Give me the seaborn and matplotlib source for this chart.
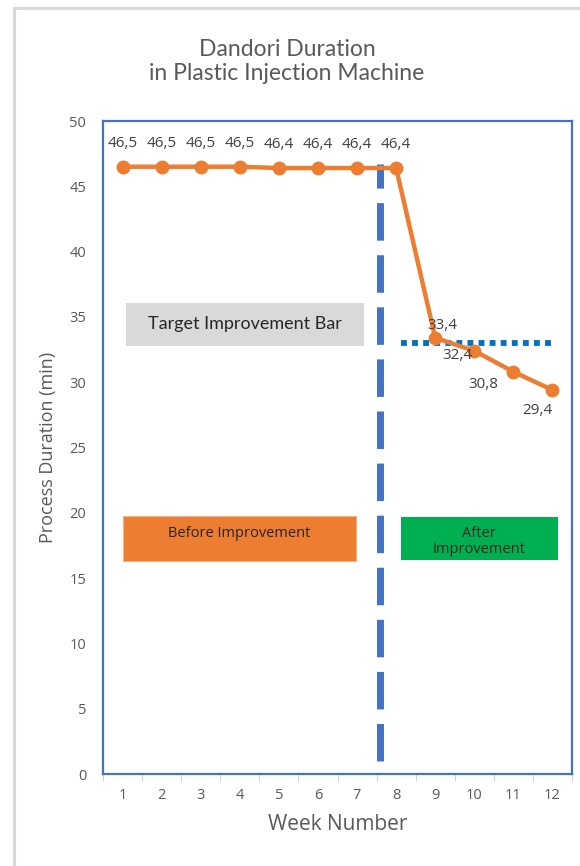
import matplotlib
matplotlib.use("Agg")
import matplotlib.pyplot as plt
from matplotlib.patches import Rectangle
from matplotlib.lines import Line2D
import seaborn as sns
import pandas as pd

# Weekly set-up (dandori) duration data
weeks = [1, 2, 3, 4, 5, 6, 7, 8, 9, 10, 11, 12]
durations = [46.5, 46.5, 46.5, 46.5, 46.4, 46.4, 46.4, 46.4, 33.4, 32.4, 30.8, 29.4]
target_value = 33.0
improvement_week = 7.6
y_ticks = [0, 5, 10, 15, 20, 25, 30, 35, 40, 45, 50]

# label offsets (points) for each data label
label_offsets = [(0, 17)] * 8 + [(5, 9), (-12, -3), (-22, -9), (-11, -15)]

ORANGE = "#ED7D31"
BLUE = "#4472C4"
GREEN = "#00B050"
GREY_TXT = "#595959"

sns.set_theme(style="white")
plt.rcParams["font.family"] = ["Open Sans", "DejaVu Sans"]

df = pd.DataFrame({"Week": weeks, "Duration": durations})

fig = plt.figure(figsize=(5.8, 8.66), dpi=100)
ax = fig.add_axes([103 / 580, 1 - 774 / 866, (572 - 103) / 580, (774 - 121) / 866])

# improvement boundary
ax.plot([improvement_week, improvement_week], [1.0, 46.7], color=BLUE, lw=5,
        dashes=(5.4, 2.1), solid_capstyle="butt", dash_capstyle="butt", zorder=2)

# target line
ax.plot([8.13, 12.1], [target_value, target_value], color="#0070C0", lw=4.2,
        dashes=(1.0, 0.9), dash_capstyle="butt", zorder=2)

sns.lineplot(data=df, x="Week", y="Duration", ax=ax, color=ORANGE, lw=3.2,
             marker="o", markersize=10, markeredgewidth=0, zorder=3)

for w, d, off in zip(weeks, durations, label_offsets):
    ax.annotate(f"{d:.1f}".replace(".", ","), (w, d), xytext=off,
                textcoords="offset points", ha="center", va="center",
                fontsize=11, color="#404040", zorder=4)

# annotation boxes
ax.add_patch(Rectangle((1.08, 32.8), 6.1, 3.3, facecolor="#D9D9D9",
                       edgecolor="none", zorder=1))
ax.text(1.08 + 3.05, 34.45, "Target Improvement Bar", ha="center", va="center",
        fontsize=13, color="#262626", family=["Lato", "DejaVu Sans"], zorder=2)

ax.add_patch(Rectangle((1.0, 16.3), 5.97, 3.45, facecolor=ORANGE,
                       edgecolor="#F4B183", lw=0.8, zorder=1))
ax.text(1.0 + 5.97 / 2, 18.45, "Before Improvement", ha="center", va="center",
        fontsize=10.5, color="#262626", zorder=2)

ax.add_patch(Rectangle((8.13, 16.4), 4.0, 3.3, facecolor=GREEN,
                       edgecolor="none", zorder=1))
ax.text(8.13 + 2.0, 17.8, "After\nImprovement", ha="center", va="center",
        fontsize=10.5, color="#262626", linespacing=1.05, zorder=2)

ax.set_xlim(0.5, 12.5)
ax.set_ylim(0, 50)
ax.set_yticks(y_ticks)
ax.set_xticks(weeks)
ax.set_xticks([w + 0.5 for w in weeks[:-1]] + [0.5, 12.5], minor=True)
ax.tick_params(axis="y", length=0, pad=12, labelsize=10.5, labelcolor=GREY_TXT)
ax.tick_params(axis="x", which="major", length=0, pad=10, labelsize=10.5,
               labelcolor=GREY_TXT)
ax.tick_params(axis="x", which="minor", length=5, width=0.8, color="#D0D0D0",
               bottom=True)

ax.set_xlabel("Week Number", fontsize=15, color=GREY_TXT, labelpad=8)
ax.set_ylabel("Process Duration (min)", fontsize=13, color=GREY_TXT,
              labelpad=9)

for s in ax.spines.values():
    s.set_color(BLUE)
    s.set_linewidth(1.6)
    s.set_visible(True)

fig.text(287 / 580, 1 - 61.5 / 866, "Dandori Duration\nin Plastic Injection Machine",
         ha="center", va="center", fontsize=16.5, color=GREY_TXT,
         family=["Lato", "DejaVu Sans"], linespacing=1.15)

# outer chart frame
fig.add_artist(Line2D([14 / 580, 14 / 580], [0, 1 - 8 / 866], color="#D9D9D9",
                      lw=2.2, transform=fig.transFigure))
fig.add_artist(Line2D([14 / 580, 1], [1 - 8 / 866, 1 - 8 / 866], color="#D9D9D9",
                      lw=2.2, transform=fig.transFigure))

fig.savefig("out.png", dpi=100)
